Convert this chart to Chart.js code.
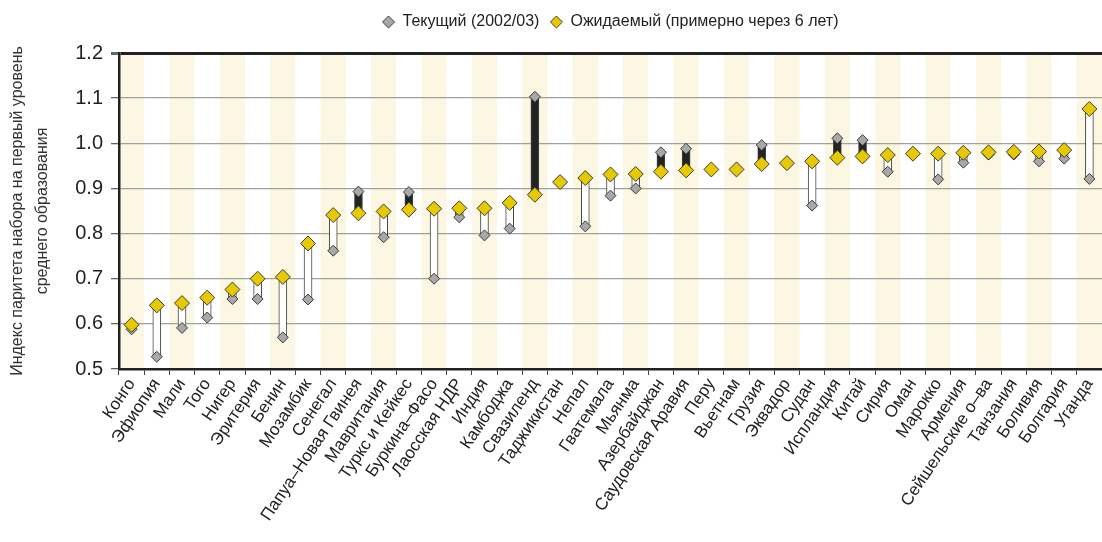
<!DOCTYPE html>
<html>
<head>
<meta charset="utf-8">
<script src="https://cdn.jsdelivr.net/npm/chart.js@4.4.0/dist/chart.umd.min.js"></script>
<style>
  html, body { margin: 0; padding: 0; background: #fff; }
  #wrap { width: 1102px; height: 542px; position: relative; }
</style>
</head>
<body>
<div id="wrap"><canvas id="chart" width="1102" height="542"></canvas></div>
<script>
const categories = [
  "Конго", "Эфиопия", "Мали", "Того", "Нигер", "Эритерия", "Бенин", "Мозамбик", "Сенегал",
  "Папуа–Новая Гвинея", "Мавритания", "Туркс и Кейкес", "Буркина–Фасо", "Лаосская НДР",
  "Индия", "Камбоджа", "Свазиленд", "Таджикистан", "Непал", "Гватемала", "Мьянма",
  "Азербайджан", "Саудовская Аравия", "Перу", "Вьетнам", "Грузия", "Эквадор", "Судан",
  "Испландия", "Китай", "Сирия", "Оман", "Марокко", "Армения", "Сейшельские о–ва",
  "Танзания", "Боливия", "Болгария", "Уганда"
]

// Текущий (2002/03)
const current = [
  0.588, 0.527, 0.591, 0.614, 0.655, 0.655, 0.570, 0.654, 0.762,
  0.893, 0.792, 0.892, 0.700, 0.836,
  0.796, 0.811, 1.103, 0.912, 0.816, 0.884, 0.900,
  0.980, 0.988, 0.942, 0.942, 0.996, 0.956, 0.862,
  1.011, 1.007, 0.937, 0.976, 0.920, 0.957, 0.975,
  0.975, 0.960, 0.966, 0.921
]

// Ожидаемый (примерно через 6 лет)
const expected = [
  0.598, 0.641, 0.646, 0.658, 0.676, 0.700, 0.704, 0.778, 0.841,
  0.845, 0.849, 0.853, 0.855, 0.856,
  0.856, 0.868, 0.886, 0.914, 0.923, 0.931, 0.932,
  0.937, 0.940, 0.942, 0.942, 0.954, 0.956, 0.960,
  0.968, 0.971, 0.974, 0.977, 0.977, 0.979, 0.980,
  0.981, 0.982, 0.985, 1.076
]

const seriesNames = ["Текущий (2002/03)", "Ожидаемый (примерно через 6 лет)"]
const yTitle = ["Индекс паритета набора на первый уровень", "среднего образования"]

const FONT = "'Liberation Sans', Arial, sans-serif"

// floating bar between the two values
const gapBars = categories.map((c, i) => [Math.min(current[i], expected[i]), Math.max(current[i], expected[i])])
const gapColors = categories.map((c, i) => current[i] > expected[i] ? "#232323" : "#ffffff")

const layoutFix = {
  id: "layoutFix",
  afterInit(chart) {
    // make the legend box tall enough to push the plot down to y=53
    const legend = chart.legend
    const origFit = legend.fit
    legend.fit = function () {
      origFit.call(this)
      this.height = 53
    }
  },
  afterLayout(chart) {
    // center the legend over the plot area and nudge it down a bit
    const { chartArea, legend } = chart
    const shift = (chartArea.left + chartArea.right) / 2 - (legend.left + legend.right) / 2
    legend.left += shift
    legend.right += shift
    legend.top += 3
  },
  beforeDraw(chart) {
    // pale stripes behind every other category
    const { ctx, chartArea, scales } = chart
    const x = scales.x
    const w = x.getPixelForValue(1) - x.getPixelForValue(0)
    ctx.save()
    ctx.fillStyle = "#fbf7e2"
    categories.forEach((c, i) => {
      if (i % 2 !== 0) return
      const cx = x.getPixelForValue(i)
      ctx.fillRect(cx - w / 2, chartArea.top, w, chartArea.bottom - chartArea.top)
    })
    ctx.restore()
  }
}

const ctx = document.getElementById("chart").getContext("2d")

new Chart(ctx, {
  data: {
    labels: categories,
    datasets: [
      {
        type: "line",
        label: seriesNames[0],
        data: current,
        showLine: false,
        pointStyle: "rectRot",
        pointRadius: 5.5,
        pointBackgroundColor: "#a8a8a8",
        pointBorderColor: "#3c3c3c",
        pointBorderWidth: 1,
        backgroundColor: "#a8a8a8",
        borderColor: "#3c3c3c",
        order: 1,
      },
      {
        type: "line",
        label: seriesNames[1],
        data: expected,
        showLine: false,
        pointStyle: "rectRot",
        pointRadius: 7.5,
        pointBackgroundColor: "#e6c900",
        pointBorderColor: "#3c3c3c",
        pointBorderWidth: 1,
        backgroundColor: "#e6c900",
        borderColor: "#3c3c3c",
        order: 0,
      },
      {
        type: "bar",
        label: "gap",
        data: gapBars,
        backgroundColor: gapColors,
        borderColor: "#444",
        borderWidth: 1,
        borderSkipped: false,
        barThickness: 8,
        order: 2,
      },
    ],
  },
  options: {
    responsive: false,
    animation: false,
    layout: { padding: 0, autoPadding: false },
    plugins: {
      tooltip: { enabled: false },
      legend: {
        position: "top",
        align: "center",
        labels: {
          filter: (item) => item.datasetIndex !== 2,
          sort: (a, b) => a.datasetIndex - b.datasetIndex,
          usePointStyle: true,
          pointStyle: "rectRot",
          boxWidth: 12,
          boxHeight: 8.5,
          padding: 11,
          color: "#222",
          font: { family: FONT, size: 16 },
        },
      },
    },
    scales: {
      x: {
        offset: true,
        grid: {
          offset: true,
          drawOnChartArea: false,
          drawTicks: true,
          tickLength: 6,
          tickColor: "#444",
        },
        border: { color: "#222", width: 2.5 },
        ticks: {
          autoSkip: false,
          maxRotation: 56,
          minRotation: 56,
          padding: 0,
          color: "#222",
          font: { family: FONT, size: 17 },
        },
        afterFit: (scale) => {
          scale.height = 173
          scale.paddingLeft = 0
          scale.paddingRight = 0
        },
      },
      y: {
        min: 0.5,
        max: 1.2,
        ticks: {
          stepSize: 0.1,
          padding: 8,
          color: "#222",
          font: { family: FONT, size: 20 },
          callback: (v) => v.toFixed(1),
        },
        grid: {
          color: (c) => (c.tick && Math.abs(c.tick.value - 1.2) < 1e-6 ? "#222" : "#a0a0a0"),
          lineWidth: (c) => (c.tick && Math.abs(c.tick.value - 1.2) < 1e-6 ? 3 : 1.3),
          tickLength: 8,
          tickColor: "#666",
        },
        border: { color: "#222", width: 2.5 },
        title: {
          display: true,
          text: yTitle,
          color: "#333",
          padding: { top: 5, bottom: 0 },
          font: { family: FONT, size: 16, lineHeight: 1.55 },
        },
        afterFit: (scale) => { scale.width = 119 },
      },
    },
  },
  plugins: [layoutFix],
})
</script>
</body>
</html>
